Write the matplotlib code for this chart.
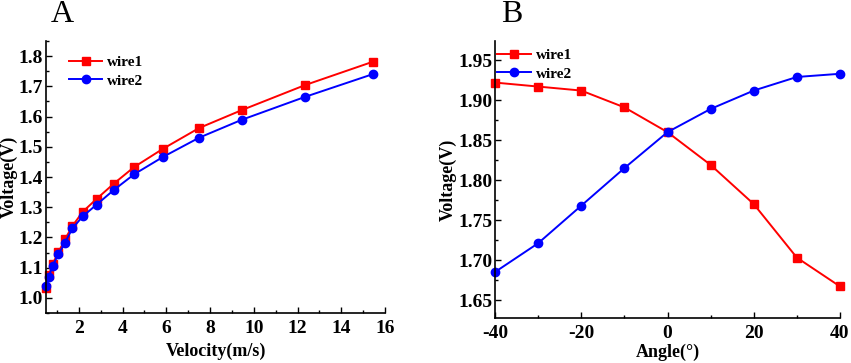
"""Two-panel figure: wire voltage vs velocity (A) and vs angle (B)."""

import matplotlib.pyplot as plt
from matplotlib.ticker import MultipleLocator

plt.rcParams["font.family"] = ["Liberation Serif", "DejaVu Serif"]
plt.rcParams["font.weight"] = "bold"
plt.rcParams["axes.unicode_minus"] = False

# Panel A: voltage vs velocity
velocity = [0.49, 0.63, 0.80, 1.07, 1.37, 1.71, 2.18, 2.82, 3.60, 4.53, 5.84, 7.50, 9.44, 12.34, 15.43]
vel_wire1 = [1.033, 1.075, 1.112, 1.151, 1.194, 1.238, 1.285, 1.328, 1.378, 1.433, 1.493, 1.562, 1.621, 1.704, 1.781]
vel_wire2 = [1.040, 1.069, 1.107, 1.144, 1.183, 1.230, 1.270, 1.309, 1.357, 1.409, 1.466, 1.530, 1.589, 1.665, 1.740]

# Panel B: voltage vs angle
angle = [-40, -30, -20, -10, 0, 10, 20, 30, 40]
ang_wire1 = [1.922, 1.917, 1.912, 1.891, 1.860, 1.819, 1.770, 1.703, 1.667]
ang_wire2 = [1.685, 1.721, 1.768, 1.815, 1.860, 1.889, 1.912, 1.929, 1.933]

RED = "#ff0000"
BLUE = "#0000ff"


def style_axes(ax):
    for side in ("top", "right"):
        ax.spines[side].set_visible(False)
    for side in ("left", "bottom"):
        ax.spines[side].set_linewidth(1.2)
    ax.tick_params(which="both", direction="in", width=1.0)
    ax.tick_params(which="major", length=4, labelsize=14)
    ax.tick_params(axis="y", which="major", pad=2)
    ax.tick_params(axis="x", which="major", pad=5)
    ax.tick_params(which="minor", length=2.5)
    for lab in ax.get_xticklabels() + ax.get_yticklabels():
        lab.set_fontweight("bold")


def plot_pair(ax, x, y1, y2):
    ax.plot(x, y1, color=RED, marker="s", markersize=5.5, linewidth=1.4, label="wire1")
    ax.plot(x, y2, color=BLUE, marker="o", markersize=6, linewidth=1.4, label="wire2")


def add_legend(ax, anchor):
    ax.legend(loc="upper left", bbox_to_anchor=anchor, frameon=False,
              prop={"weight": "bold", "size": 11}, handlelength=2.2,
              handletextpad=0.3, labelspacing=0.3, borderaxespad=0.2)


fig = plt.figure(figsize=(8.51, 3.63), dpi=100)
W, H = 851, 363

ax1 = fig.add_axes([46 / W, 1 - 313 / H, (385 - 46) / W, (313 - 41) / H])
plot_pair(ax1, velocity, vel_wire1, vel_wire2)
ax1.set_xlim(0.5, 16)
ax1.set_ylim(0.95, 1.85)
ax1.xaxis.set_major_locator(MultipleLocator(2))
ax1.xaxis.set_minor_locator(MultipleLocator(1))
ax1.yaxis.set_major_locator(MultipleLocator(0.1))
ax1.yaxis.set_minor_locator(MultipleLocator(0.05))
ax1.yaxis.set_major_formatter(plt.FormatStrFormatter("%.1f"))
ax1.set_xlabel("Velocity(m/s)", fontsize=13, fontweight="bold", labelpad=4)
ax1.set_ylabel("Voltage(V)", fontsize=13, fontweight="bold", labelpad=1)
style_axes(ax1)
add_legend(ax1, (0.04, 0.98))
fig.text(62 / W, 1 - 14 / H, "A", fontsize=23, fontweight="normal", ha="center", va="center")

ax2 = fig.add_axes([495 / W, 1 - 318 / H, (840 - 495) / W, (318 - 41) / H])
plot_pair(ax2, angle, ang_wire1, ang_wire2)
ax2.set_xlim(-40, 40)
ax2.set_ylim(1.6275, 1.974)
ax2.xaxis.set_major_locator(MultipleLocator(20))
ax2.xaxis.set_minor_locator(MultipleLocator(10))
ax2.yaxis.set_major_locator(MultipleLocator(0.05))
ax2.yaxis.set_minor_locator(MultipleLocator(0.025))
ax2.yaxis.set_major_formatter(plt.FormatStrFormatter("%.2f"))
ax2.set_xlabel("Angle(°)", fontsize=13, fontweight="bold", labelpad=1)
ax2.set_ylabel("Voltage(V)", fontsize=13, fontweight="bold", labelpad=1)
style_axes(ax2)
add_legend(ax2, (-0.02, 1.005))
fig.text(512 / W, 1 - 15 / H, "B", fontsize=23, fontweight="normal", ha="center", va="center")

for a in (ax1, ax2):
    for line in a.get_lines():
        line.set_clip_on(False)

fig.savefig("out.png", dpi=100)
plt.close(fig)
